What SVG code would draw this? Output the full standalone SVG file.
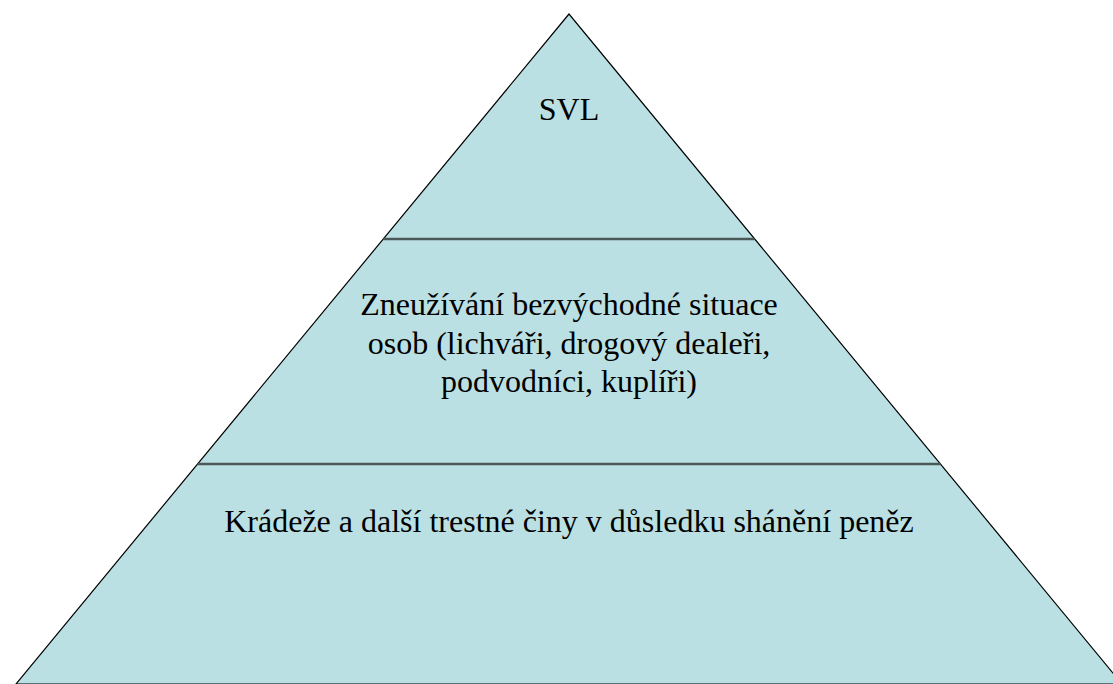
<svg xmlns="http://www.w3.org/2000/svg" width="1113" height="684" viewBox="0 0 1113 684">
<style>
.t{font-family:"Times New Roman","Liberation Serif","DejaVu Serif",serif;font-size:32px;fill:#000;text-anchor:middle}
.div{stroke:#4a5858;stroke-width:2.5;fill:none}
</style>
<rect width="1113" height="684" fill="#ffffff"/>
<g id="pyramid">
<polygon points="569,14 16,684 1122,684" fill="#bbe0e3" stroke="#000" stroke-width="1.2"/>
</g>
<g id="connectors">
<line class="div" x1="383.5" y1="239" x2="754.5" y2="239"/>
<line class="div" x1="197.5" y1="464" x2="940.5" y2="464"/>
</g>
<g id="level-top">
<text class="t" x="569" y="120">SVL</text>
</g>
<g id="level-middle">
<text class="t" x="569" y="315">Zneužívání bezvýchodné situace</text>
<text class="t" x="569" y="354">osob (lichváři, drogový dealeři,</text>
<text class="t" x="569" y="392">podvodníci, kuplíři)</text>
</g>
<g id="level-bottom">
<text class="t" x="569" y="532">Krádeže a další trestné činy v důsledku shánění peněz</text>
</g>
</svg>
